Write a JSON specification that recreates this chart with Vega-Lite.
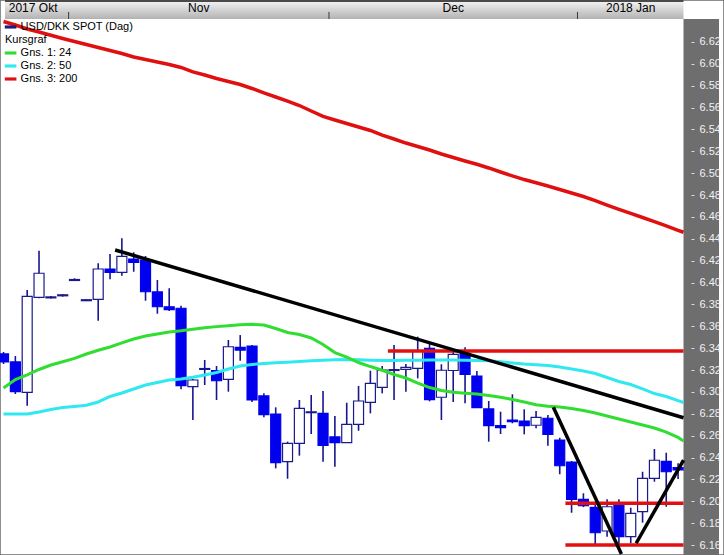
{
  "$schema": "https://vega.github.io/schema/vega-lite/v6.json",
  "width": 724,
  "height": 555,
  "padding": 0,
  "autosize": {"type": "none"},
  "background": "white",
  "config": {
    "view": {"stroke": "#6a6a6a", "strokeWidth": 1.5},
    "axisX": {"disable": true},
    "axisY": {"domain": false, "grid": false, "tickSize": 3, "tickColor": "#dcdcdc", "tickWidth": 1, "labelColor": "#f2f2f2", "labelFont": "Liberation Sans", "labelFontSize": 11, "labelPadding": 5, "labelOverlap": false, "title": null}
  },
  "datasets": {
    "candles": [
      {"i": 0, "d": "2017-10-24", "o": 6.3347, "h": 6.3365, "l": 6.3255, "c": 6.3274},
      {"i": 1, "d": "2017-10-25", "o": 6.3274, "h": 6.3328, "l": 6.2981, "c": 6.3002},
      {"i": 2, "d": "2017-10-26", "o": 6.2996, "h": 6.3932, "l": 6.2874, "c": 6.3874},
      {"i": 3, "d": "2017-10-27", "o": 6.3865, "h": 6.4291, "l": 6.3856, "c": 6.4085},
      {"i": 4, "d": "2017-10-30", "o": 6.3860, "h": 6.3877, "l": 6.3854, "c": 6.3869},
      {"i": 5, "d": "2017-10-31", "o": 6.3879, "h": 6.3895, "l": 6.3871, "c": 6.3888},
      {"i": 6, "d": "2017-11-01", "o": 6.4019, "h": 6.4039, "l": 6.4017, "c": 6.4028},
      {"i": 7, "d": "2017-11-02", "o": 6.3834, "h": 6.3850, "l": 6.3831, "c": 6.3843},
      {"i": 8, "d": "2017-11-03", "o": 6.3847, "h": 6.4176, "l": 6.3651, "c": 6.4124},
      {"i": 9, "d": "2017-11-06", "o": 6.4124, "h": 6.4261, "l": 6.4030, "c": 6.4094},
      {"i": 10, "d": "2017-11-07", "o": 6.4094, "h": 6.4405, "l": 6.4063, "c": 6.4240},
      {"i": 11, "d": "2017-11-08", "o": 6.4215, "h": 6.4277, "l": 6.4099, "c": 6.4185},
      {"i": 12, "d": "2017-11-09", "o": 6.4206, "h": 6.4243, "l": 6.3834, "c": 6.3916},
      {"i": 13, "d": "2017-11-10", "o": 6.3914, "h": 6.4023, "l": 6.3715, "c": 6.3779},
      {"i": 14, "d": "2017-11-13", "o": 6.3779, "h": 6.3948, "l": 6.3740, "c": 6.3752},
      {"i": 15, "d": "2017-11-14", "o": 6.3765, "h": 6.3788, "l": 6.3024, "c": 6.3057},
      {"i": 16, "d": "2017-11-15", "o": 6.3048, "h": 6.3118, "l": 6.2743, "c": 6.3109},
      {"i": 17, "d": "2017-11-16", "o": 6.3206, "h": 6.3292, "l": 6.3063, "c": 6.3214},
      {"i": 18, "d": "2017-11-17", "o": 6.3194, "h": 6.3237, "l": 6.2926, "c": 6.3102},
      {"i": 19, "d": "2017-11-20", "o": 6.3115, "h": 6.3475, "l": 6.3002, "c": 6.3413},
      {"i": 20, "d": "2017-11-21", "o": 6.3408, "h": 6.3520, "l": 6.3285, "c": 6.3383},
      {"i": 21, "d": "2017-11-22", "o": 6.3420, "h": 6.3429, "l": 6.2908, "c": 6.2926},
      {"i": 22, "d": "2017-11-23", "o": 6.2963, "h": 6.2987, "l": 6.2768, "c": 6.2792},
      {"i": 23, "d": "2017-11-24", "o": 6.2798, "h": 6.2859, "l": 6.2301, "c": 6.2353},
      {"i": 24, "d": "2017-11-27", "o": 6.2362, "h": 6.2545, "l": 6.2206, "c": 6.2530},
      {"i": 25, "d": "2017-11-28", "o": 6.2530, "h": 6.2926, "l": 6.2417, "c": 6.2850},
      {"i": 26, "d": "2017-11-29", "o": 6.2810, "h": 6.2972, "l": 6.2615, "c": 6.2818},
      {"i": 27, "d": "2017-11-30", "o": 6.2804, "h": 6.3008, "l": 6.2362, "c": 6.2512},
      {"i": 28, "d": "2017-12-01", "o": 6.2588, "h": 6.2780, "l": 6.2316, "c": 6.2536},
      {"i": 29, "d": "2017-12-04", "o": 6.2536, "h": 6.2901, "l": 6.2536, "c": 6.2704},
      {"i": 30, "d": "2017-12-05", "o": 6.2704, "h": 6.3054, "l": 6.2645, "c": 6.2917},
      {"i": 31, "d": "2017-12-06", "o": 6.2905, "h": 6.3194, "l": 6.2804, "c": 6.3079},
      {"i": 32, "d": "2017-12-07", "o": 6.3042, "h": 6.3237, "l": 6.2987, "c": 6.3200},
      {"i": 33, "d": "2017-12-08", "o": 6.3196, "h": 6.3429, "l": 6.2926, "c": 6.3204},
      {"i": 34, "d": "2017-12-11", "o": 6.3207, "h": 6.3255, "l": 6.3002, "c": 6.3225},
      {"i": 35, "d": "2017-12-12", "o": 6.3216, "h": 6.3505, "l": 6.3124, "c": 6.3374},
      {"i": 36, "d": "2017-12-13", "o": 6.3399, "h": 6.3438, "l": 6.2914, "c": 6.2929},
      {"i": 37, "d": "2017-12-14", "o": 6.2951, "h": 6.3253, "l": 6.2743, "c": 6.3198},
      {"i": 38, "d": "2017-12-15", "o": 6.3196, "h": 6.3377, "l": 6.2908, "c": 6.3344},
      {"i": 39, "d": "2017-12-18", "o": 6.3353, "h": 6.3408, "l": 6.2896, "c": 6.3161},
      {"i": 40, "d": "2017-12-19", "o": 6.3145, "h": 6.3191, "l": 6.2856, "c": 6.2856},
      {"i": 41, "d": "2017-12-20", "o": 6.2844, "h": 6.2917, "l": 6.2545, "c": 6.2691},
      {"i": 42, "d": "2017-12-21", "o": 6.2691, "h": 6.2819, "l": 6.2615, "c": 6.2673},
      {"i": 43, "d": "2017-12-22", "o": 6.2743, "h": 6.2978, "l": 6.2713, "c": 6.2728},
      {"i": 44, "d": "2017-12-25", "o": 6.2734, "h": 6.2841, "l": 6.2612, "c": 6.2691},
      {"i": 45, "d": "2017-12-26", "o": 6.2695, "h": 6.2825, "l": 6.2667, "c": 6.2768},
      {"i": 46, "d": "2017-12-27", "o": 6.2759, "h": 6.2789, "l": 6.2508, "c": 6.2612},
      {"i": 47, "d": "2017-12-28", "o": 6.2560, "h": 6.2581, "l": 6.2247, "c": 6.2325},
      {"i": 48, "d": "2017-12-29", "o": 6.2359, "h": 6.2368, "l": 6.1895, "c": 6.2018},
      {"i": 49, "d": "2018-01-01", "o": 6.2018, "h": 6.2073, "l": 6.1947, "c": 6.1959},
      {"i": 50, "d": "2018-01-02", "o": 6.1945, "h": 6.1984, "l": 6.1600, "c": 6.1712},
      {"i": 51, "d": "2018-01-03", "o": 6.1728, "h": 6.2018, "l": 6.1676, "c": 6.1950},
      {"i": 52, "d": "2018-01-04", "o": 6.1963, "h": 6.2018, "l": 6.1594, "c": 6.1676},
      {"i": 53, "d": "2018-01-05", "o": 6.1676, "h": 6.1941, "l": 6.1616, "c": 6.1890},
      {"i": 54, "d": "2018-01-08", "o": 6.1905, "h": 6.2270, "l": 6.1804, "c": 6.2210},
      {"i": 55, "d": "2018-01-09", "o": 6.2210, "h": 6.2478, "l": 6.2179, "c": 6.2375},
      {"i": 56, "d": "2018-01-10", "o": 6.2365, "h": 6.2444, "l": 6.1950, "c": 6.2270},
      {"i": 57, "d": "2018-01-11", "o": 6.2307, "h": 6.2348, "l": 6.2203, "c": 6.2286}
    ],
    "ma": [
      {"i": 0, "g24": 6.3036, "g50": 6.2798, "g200": 6.6387},
      {"i": 1, "g24": 6.3113, "g50": 6.2798, "g200": 6.6355},
      {"i": 2, "g24": 6.3155, "g50": 6.2798, "g200": 6.6319},
      {"i": 3, "g24": 6.3205, "g50": 6.2816, "g200": 6.6291},
      {"i": 4, "g24": 6.3246, "g50": 6.2839, "g200": 6.6262},
      {"i": 5, "g24": 6.3276, "g50": 6.2857, "g200": 6.6232},
      {"i": 6, "g24": 6.3307, "g50": 6.2867, "g200": 6.6204},
      {"i": 7, "g24": 6.3347, "g50": 6.2878, "g200": 6.6177},
      {"i": 8, "g24": 6.3381, "g50": 6.2908, "g200": 6.6150},
      {"i": 9, "g24": 6.3411, "g50": 6.2958, "g200": 6.6122},
      {"i": 10, "g24": 6.3449, "g50": 6.2990, "g200": 6.6095},
      {"i": 11, "g24": 6.3484, "g50": 6.3027, "g200": 6.6063},
      {"i": 12, "g24": 6.3511, "g50": 6.3063, "g200": 6.6040},
      {"i": 13, "g24": 6.3530, "g50": 6.3086, "g200": 6.6017},
      {"i": 14, "g24": 6.3548, "g50": 6.3109, "g200": 6.5994},
      {"i": 15, "g24": 6.3559, "g50": 6.3118, "g200": 6.5967},
      {"i": 16, "g24": 6.3573, "g50": 6.3134, "g200": 6.5926},
      {"i": 17, "g24": 6.3586, "g50": 6.3155, "g200": 6.5898},
      {"i": 18, "g24": 6.3597, "g50": 6.3177, "g200": 6.5866},
      {"i": 19, "g24": 6.3606, "g50": 6.3210, "g200": 6.5839},
      {"i": 20, "g24": 6.3614, "g50": 6.3237, "g200": 6.5811},
      {"i": 21, "g24": 6.3618, "g50": 6.3251, "g200": 6.5775},
      {"i": 22, "g24": 6.3612, "g50": 6.3260, "g200": 6.5734},
      {"i": 23, "g24": 6.3580, "g50": 6.3266, "g200": 6.5697},
      {"i": 24, "g24": 6.3543, "g50": 6.3271, "g200": 6.5660},
      {"i": 25, "g24": 6.3525, "g50": 6.3278, "g200": 6.5619},
      {"i": 26, "g24": 6.3493, "g50": 6.3285, "g200": 6.5569},
      {"i": 27, "g24": 6.3434, "g50": 6.3289, "g200": 6.5519},
      {"i": 28, "g24": 6.3360, "g50": 6.3294, "g200": 6.5487},
      {"i": 29, "g24": 6.3319, "g50": 6.3296, "g200": 6.5455},
      {"i": 30, "g24": 6.3269, "g50": 6.3294, "g200": 6.5423},
      {"i": 31, "g24": 6.3232, "g50": 6.3290, "g200": 6.5391},
      {"i": 32, "g24": 6.3198, "g50": 6.3287, "g200": 6.5349},
      {"i": 33, "g24": 6.3159, "g50": 6.3287, "g200": 6.5313},
      {"i": 34, "g24": 6.3127, "g50": 6.3289, "g200": 6.5276},
      {"i": 35, "g24": 6.3081, "g50": 6.3290, "g200": 6.5244},
      {"i": 36, "g24": 6.3040, "g50": 6.3292, "g200": 6.5212},
      {"i": 37, "g24": 6.3013, "g50": 6.3292, "g200": 6.5176},
      {"i": 38, "g24": 6.2996, "g50": 6.3292, "g200": 6.5144},
      {"i": 39, "g24": 6.2988, "g50": 6.3289, "g200": 6.5112},
      {"i": 40, "g24": 6.2981, "g50": 6.3287, "g200": 6.5082},
      {"i": 41, "g24": 6.2967, "g50": 6.3285, "g200": 6.5048},
      {"i": 42, "g24": 6.2952, "g50": 6.3275, "g200": 6.5011},
      {"i": 43, "g24": 6.2931, "g50": 6.3264, "g200": 6.4975},
      {"i": 44, "g24": 6.2908, "g50": 6.3255, "g200": 6.4942},
      {"i": 45, "g24": 6.2882, "g50": 6.3249, "g200": 6.4913},
      {"i": 46, "g24": 6.2869, "g50": 6.3242, "g200": 6.4883},
      {"i": 47, "g24": 6.2862, "g50": 6.3228, "g200": 6.4851},
      {"i": 48, "g24": 6.2848, "g50": 6.3210, "g200": 6.4819},
      {"i": 49, "g24": 6.2830, "g50": 6.3191, "g200": 6.4787},
      {"i": 50, "g24": 6.2807, "g50": 6.3168, "g200": 6.4750},
      {"i": 51, "g24": 6.2780, "g50": 6.3132, "g200": 6.4709},
      {"i": 52, "g24": 6.2752, "g50": 6.3095, "g200": 6.4670},
      {"i": 53, "g24": 6.2725, "g50": 6.3068, "g200": 6.4632},
      {"i": 54, "g24": 6.2697, "g50": 6.3027, "g200": 6.4595},
      {"i": 55, "g24": 6.2670, "g50": 6.2985, "g200": 6.4558},
      {"i": 56, "g24": 6.2633, "g50": 6.2958, "g200": 6.4519},
      {"i": 57, "g24": 6.2584, "g50": 6.2921, "g200": 6.4478},
      {"i": 57.46, "g24": 6.2551, "g50": 6.2903, "g200": 6.4460}
    ],
    "trend": [
      {"t": "a", "i": 9.43, "v": 6.4298},
      {"t": "a", "i": 57.46, "v": 6.2764},
      {"t": "b", "i": 46.46, "v": 6.2859},
      {"t": "b", "i": 52.21, "v": 6.1518},
      {"t": "c", "i": 53.46, "v": 6.1616},
      {"t": "c", "i": 57.46, "v": 6.2377}
    ],
    "levels": [
      {"i1": 32.48, "i2": 57.46, "v": 6.3374},
      {"i1": 47.48, "i2": 57.46, "v": 6.1981},
      {"i1": 47.48, "i2": 57.46, "v": 6.1600}
    ],
    "months": [
      {"m": "2017 Okt", "mid": 2.5},
      {"m": "Nov", "mid": 16.5},
      {"m": "Dec", "mid": 38},
      {"m": "2018 Jan", "mid": 53}
    ],
    "bounds": [
      {"b": 5.5},
      {"b": 27.5},
      {"b": 48.5}
    ]
  },
  "layer": [
    {
      "data": {"values": [{}]},
      "mark": {"type": "rect", "fill": {"gradient": "linear", "x1": 0, "y1": 0, "x2": 0, "y2": 1, "stops": [{"offset": 0, "color": "#4a4a4a"}, {"offset": 0.08, "color": "#4a4a4a"}, {"offset": 0.1, "color": "#f0f0f0"}, {"offset": 1, "color": "#b2b2b2"}]}},
      "encoding": {
        "x": {"datum": 0.125, "type": "quantitative", "scale": {"domain": [0.125, 60.458], "nice": false, "zero": false}},
        "x2": {"datum": 57.458},
        "y": {"datum": 6.64102, "type": "quantitative", "scale": {"domain": [6.15086, 6.6584], "nice": false, "zero": false},
              "axis": {"orient": "right", "offset": -33, "values": [6.16, 6.18, 6.2, 6.22, 6.24, 6.26, 6.28, 6.3, 6.32, 6.34, 6.36, 6.38, 6.4, 6.42, 6.44, 6.46, 6.48, 6.5, 6.52, 6.54, 6.56, 6.58, 6.6, 6.62], "format": ".2f", "labelOverlap": false, "zindex": 2, "title": null}},
        "y2": {"datum": 6.6584}
      }
    },
    {
      "data": {"values": [{}]},
      "mark": {"type": "rect", "fill": "#6e6e6e"},
      "encoding": {
        "x": {"datum": 57.458, "type": "quantitative"},
        "x2": {"datum": 60.458},
        "y": {"datum": 6.15086, "type": "quantitative", "axis": {"orient": "right", "offset": -33, "values": [6.16, 6.18, 6.2, 6.22, 6.24, 6.26, 6.28, 6.3, 6.32, 6.34, 6.36, 6.38, 6.4, 6.42, 6.44, 6.46, 6.48, 6.5, 6.52, 6.54, 6.56, 6.58, 6.6, 6.62], "format": ".2f", "labelOverlap": false, "zindex": 2, "title": null}},
        "y2": {"datum": 6.64102}
      }
    },
    {
      "data": {"name": "bounds"},
      "mark": {"type": "rule", "color": "#3a3a3a", "strokeWidth": 1},
      "encoding": {
        "x": {"field": "b", "type": "quantitative"},
        "y": {"datum": 6.64102, "type": "quantitative", "axis": {"orient": "right", "offset": -33, "values": [6.16, 6.18, 6.2, 6.22, 6.24, 6.26, 6.28, 6.3, 6.32, 6.34, 6.36, 6.38, 6.4, 6.42, 6.44, 6.46, 6.48, 6.5, 6.52, 6.54, 6.56, 6.58, 6.6, 6.62], "format": ".2f", "labelOverlap": false, "zindex": 2, "title": null}},
        "y2": {"datum": 6.6475}
      }
    },
    {
      "data": {"name": "months"},
      "mark": {"type": "text", "font": "Liberation Sans", "fontSize": 12, "color": "#000000", "baseline": "middle", "align": "center"},
      "encoding": {
        "x": {"field": "mid", "type": "quantitative"},
        "y": {"datum": 6.6515, "type": "quantitative", "axis": {"orient": "right", "offset": -33, "values": [6.16, 6.18, 6.2, 6.22, 6.24, 6.26, 6.28, 6.3, 6.32, 6.34, 6.36, 6.38, 6.4, 6.42, 6.44, 6.46, 6.48, 6.5, 6.52, 6.54, 6.56, 6.58, 6.6, 6.62], "format": ".2f", "labelOverlap": false, "zindex": 2, "title": null}},
        "text": {"field": "m"}
      }
    },
    {
      "data": {"name": "candles"},
      "mark": {"type": "rule", "color": "#16168f", "strokeWidth": 1.6, "clip": true},
      "encoding": {
        "x": {"field": "i", "type": "quantitative"},
        "y": {"field": "l", "type": "quantitative", "axis": {"orient": "right", "offset": -33, "values": [6.16, 6.18, 6.2, 6.22, 6.24, 6.26, 6.28, 6.3, 6.32, 6.34, 6.36, 6.38, 6.4, 6.42, 6.44, 6.46, 6.48, 6.5, 6.52, 6.54, 6.56, 6.58, 6.6, 6.62], "format": ".2f", "labelOverlap": false, "zindex": 2, "title": null}},
        "y2": {"field": "h"}
      }
    },
    {
      "data": {"name": "candles"},
      "mark": {"type": "bar", "width": 10, "strokeWidth": 1.2, "clip": true},
      "encoding": {
        "x": {"field": "i", "type": "quantitative"},
        "y": {"field": "o", "type": "quantitative", "axis": {"orient": "right", "offset": -33, "values": [6.16, 6.18, 6.2, 6.22, 6.24, 6.26, 6.28, 6.3, 6.32, 6.34, 6.36, 6.38, 6.4, 6.42, 6.44, 6.46, 6.48, 6.5, 6.52, 6.54, 6.56, 6.58, 6.6, 6.62], "format": ".2f", "labelOverlap": false, "zindex": 2, "title": null}},
        "y2": {"field": "c"},
        "fill": {"condition": {"test": "datum.c > datum.o", "value": "#ffffff"}, "value": "#0000ee"},
        "stroke": {"condition": {"test": "datum.c > datum.o", "value": "#1a1a8c"}, "value": "#0000ee"}
      }
    },
    {
      "data": {"name": "ma"},
      "mark": {"type": "line", "strokeWidth": 3.5, "clip": true},
      "encoding": {
        "x": {"field": "i", "type": "quantitative"},
        "y": {"field": "g200", "type": "quantitative", "axis": {"orient": "right", "offset": -33, "values": [6.16, 6.18, 6.2, 6.22, 6.24, 6.26, 6.28, 6.3, 6.32, 6.34, 6.36, 6.38, 6.4, 6.42, 6.44, 6.46, 6.48, 6.5, 6.52, 6.54, 6.56, 6.58, 6.6, 6.62], "format": ".2f", "labelOverlap": false, "zindex": 2, "title": null}},
        "color": {
          "datum": "Gns. 3: 200", "type": "nominal",
          "scale": {"domain": ["USD/DKK SPOT (Dag)", "Kursgraf", "Gns. 1: 24", "Gns. 2: 50", "Gns. 3: 200"], "range": ["#1c1c80", "#ffffff", "#30dd30", "#30e8f0", "#e01010"]},
          "legend": {
            "orient": "none", "legendX": 4.6, "legendY": 21, "title": null, "padding": 0,
            "symbolType": "M-1,-0.27H1V0.27H-1Z", "symbolSize": 135, "symbolStrokeWidth": 0, "symbolOpacity": 1,
            "labelFont": "Liberation Sans", "labelFontSize": 11, "labelColor": "#000000", "labelOffset": 4, "rowPadding": 2,
            "encode": {
              "symbols": {"update": {"fill": {"scale": "color", "field": "value"}, "stroke": {"value": "transparent"}}},
              "labels": {"update": {"dx": {"signal": "datum.value === 'Kursgraf' ? -15.6 : 0"}}}
            }
          }
        }
      }
    },
    {
      "data": {"name": "ma"},
      "mark": {"type": "line", "strokeWidth": 3, "clip": true},
      "encoding": {
        "x": {"field": "i", "type": "quantitative"},
        "y": {"field": "g50", "type": "quantitative", "axis": {"orient": "right", "offset": -33, "values": [6.16, 6.18, 6.2, 6.22, 6.24, 6.26, 6.28, 6.3, 6.32, 6.34, 6.36, 6.38, 6.4, 6.42, 6.44, 6.46, 6.48, 6.5, 6.52, 6.54, 6.56, 6.58, 6.6, 6.62], "format": ".2f", "labelOverlap": false, "zindex": 2, "title": null}},
        "color": {"datum": "Gns. 2: 50", "type": "nominal"}
      }
    },
    {
      "data": {"name": "ma"},
      "mark": {"type": "line", "strokeWidth": 3, "clip": true},
      "encoding": {
        "x": {"field": "i", "type": "quantitative"},
        "y": {"field": "g24", "type": "quantitative", "axis": {"orient": "right", "offset": -33, "values": [6.16, 6.18, 6.2, 6.22, 6.24, 6.26, 6.28, 6.3, 6.32, 6.34, 6.36, 6.38, 6.4, 6.42, 6.44, 6.46, 6.48, 6.5, 6.52, 6.54, 6.56, 6.58, 6.6, 6.62], "format": ".2f", "labelOverlap": false, "zindex": 2, "title": null}},
        "color": {"datum": "Gns. 1: 24", "type": "nominal"}
      }
    },
    {
      "data": {"name": "levels"},
      "mark": {"type": "rule", "color": "#e01010", "strokeWidth": 3.5, "clip": true},
      "encoding": {
        "x": {"field": "i1", "type": "quantitative"},
        "x2": {"field": "i2"},
        "y": {"field": "v", "type": "quantitative", "axis": {"orient": "right", "offset": -33, "values": [6.16, 6.18, 6.2, 6.22, 6.24, 6.26, 6.28, 6.3, 6.32, 6.34, 6.36, 6.38, 6.4, 6.42, 6.44, 6.46, 6.48, 6.5, 6.52, 6.54, 6.56, 6.58, 6.6, 6.62], "format": ".2f", "labelOverlap": false, "zindex": 2, "title": null}}
      }
    },
    {
      "data": {"name": "trend"},
      "mark": {"type": "line", "color": "#000000", "strokeWidth": 3.5, "clip": true},
      "encoding": {
        "x": {"field": "i", "type": "quantitative"},
        "y": {"field": "v", "type": "quantitative", "axis": {"orient": "right", "offset": -33, "values": [6.16, 6.18, 6.2, 6.22, 6.24, 6.26, 6.28, 6.3, 6.32, 6.34, 6.36, 6.38, 6.4, 6.42, 6.44, 6.46, 6.48, 6.5, 6.52, 6.54, 6.56, 6.58, 6.6, 6.62], "format": ".2f", "labelOverlap": false, "zindex": 2, "title": null}},
        "detail": {"field": "t"}
      }
    }
  ]
}
